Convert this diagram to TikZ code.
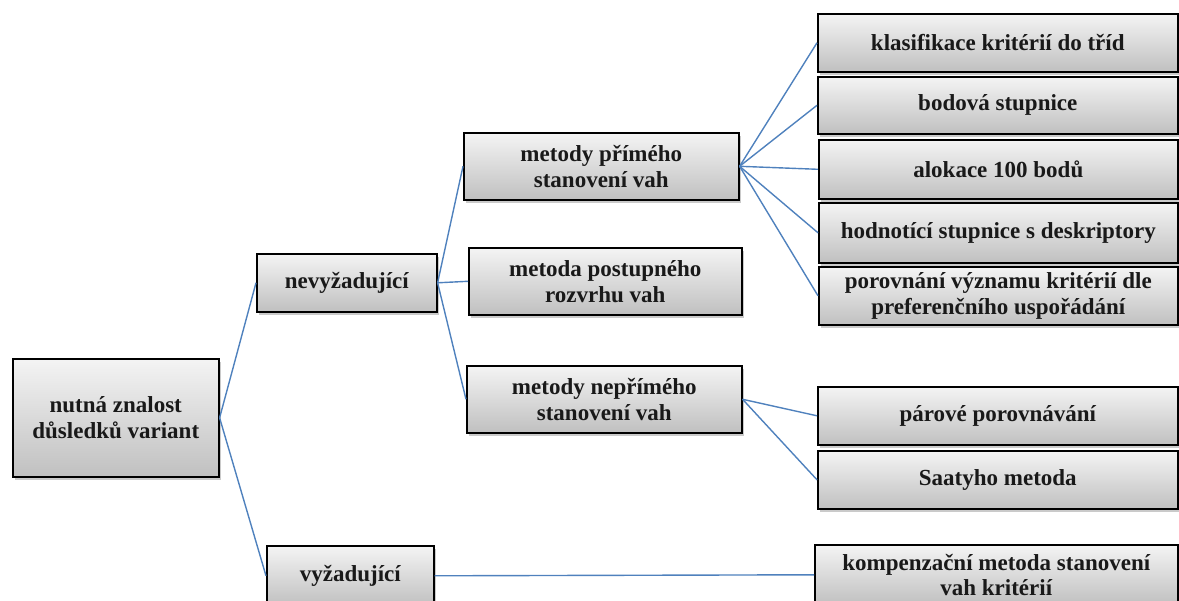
\documentclass[tikz,border=0pt]{standalone}
\usepackage{fontspec}
\setmainfont{Liberation Serif}
\usetikzlibrary{shadows}
\definecolor{linkblue}{RGB}{79,129,189}
\definecolor{boxtop}{RGB}{244,244,244}
\definecolor{boxbottom}{RGB}{192,192,192}
\definecolor{inkdark}{RGB}{25,25,25}
\tikzset{
  box/.style={draw=black, line width=1.6pt, rectangle, anchor=north west,
    top color=boxtop, bottom color=boxbottom, inner sep=0pt,
    align=center, text=inkdark,
    font=\bfseries\fontsize{23}{26}\selectfont,
    drop shadow={shadow xshift=2pt, shadow yshift=-3pt, opacity=0.35, fill=black!60}},
  link/.style={draw=linkblue, line width=1.4pt}
}
\begin{document}
\begin{tikzpicture}[x=1pt,y=-1pt]
\useasboundingbox (0,0) rectangle (1179,601);

% root
\node[box, minimum width=206pt, minimum height=118pt] (root) at (12,358)
  {nutná znalost\\důsledků variant};

% second level
\node[box, minimum width=180pt, minimum height=58pt] (nev) at (256,253) {nevyžadující};
\node[box, minimum width=167pt, minimum height=60pt] (vyz) at (266,545) {vyžadující};

% third level
\node[box, minimum width=275pt, minimum height=67pt] (prime) at (463,132)
  {metody přímého\\stanovení vah};
\node[box, minimum width=273pt, minimum height=67pt] (postup) at (468,247)
  {metoda postupného\\rozvrhu vah};
\node[box, minimum width=275pt, minimum height=67pt] (neprime) at (466,365)
  {metody nepřímého\\stanovení vah};

% fourth level
\node[box, minimum width=360pt, minimum height=58pt] (klas) at (817,13) {klasifikace kritérií do tříd};
\node[box, minimum width=360pt, minimum height=57pt] (bod) at (817,76) {bodová stupnice};
\node[box, minimum width=359pt, minimum height=59pt] (alok) at (818,139) {alokace 100 bodů};
\node[box, minimum width=359pt, minimum height=60pt] (hodn) at (818,202) {hodnotící stupnice s deskriptory};
\node[box, minimum width=359pt, minimum height=58pt] (porov) at (818,266)
  {porovnání významu kritérií dle\\preferenčního uspořádání};
\node[box, minimum width=360pt, minimum height=58pt] (parove) at (817,386) {párové porovnávání};
\node[box, minimum width=360pt, minimum height=58pt] (saaty) at (817,450) {Saatyho metoda};
\node[box, minimum width=363pt, minimum height=60pt,
  font=\bfseries\fontsize{23}{25}\selectfont] (komp) at (814,544)
  {kompenzační metoda stanovení\\vah kritérií};

% connectors
\draw[link] (root.east) -- (nev.west);
\draw[link] (root.east) -- (vyz.west);
\draw[link] (nev.east) -- (prime.west);
\draw[link] (nev.east) -- (postup.west);
\draw[link] (nev.east) -- (neprime.west);
\draw[link] (prime.east) -- (klas.west);
\draw[link] (prime.east) -- (bod.west);
\draw[link] (prime.east) -- (alok.west);
\draw[link] (prime.east) -- (hodn.west);
\draw[link] (prime.east) -- (porov.west);
\draw[link] (neprime.east) -- (parove.west);
\draw[link] (neprime.east) -- (saaty.west);
\draw[link] (vyz.east) -- (komp.west);
\end{tikzpicture}
\end{document}
